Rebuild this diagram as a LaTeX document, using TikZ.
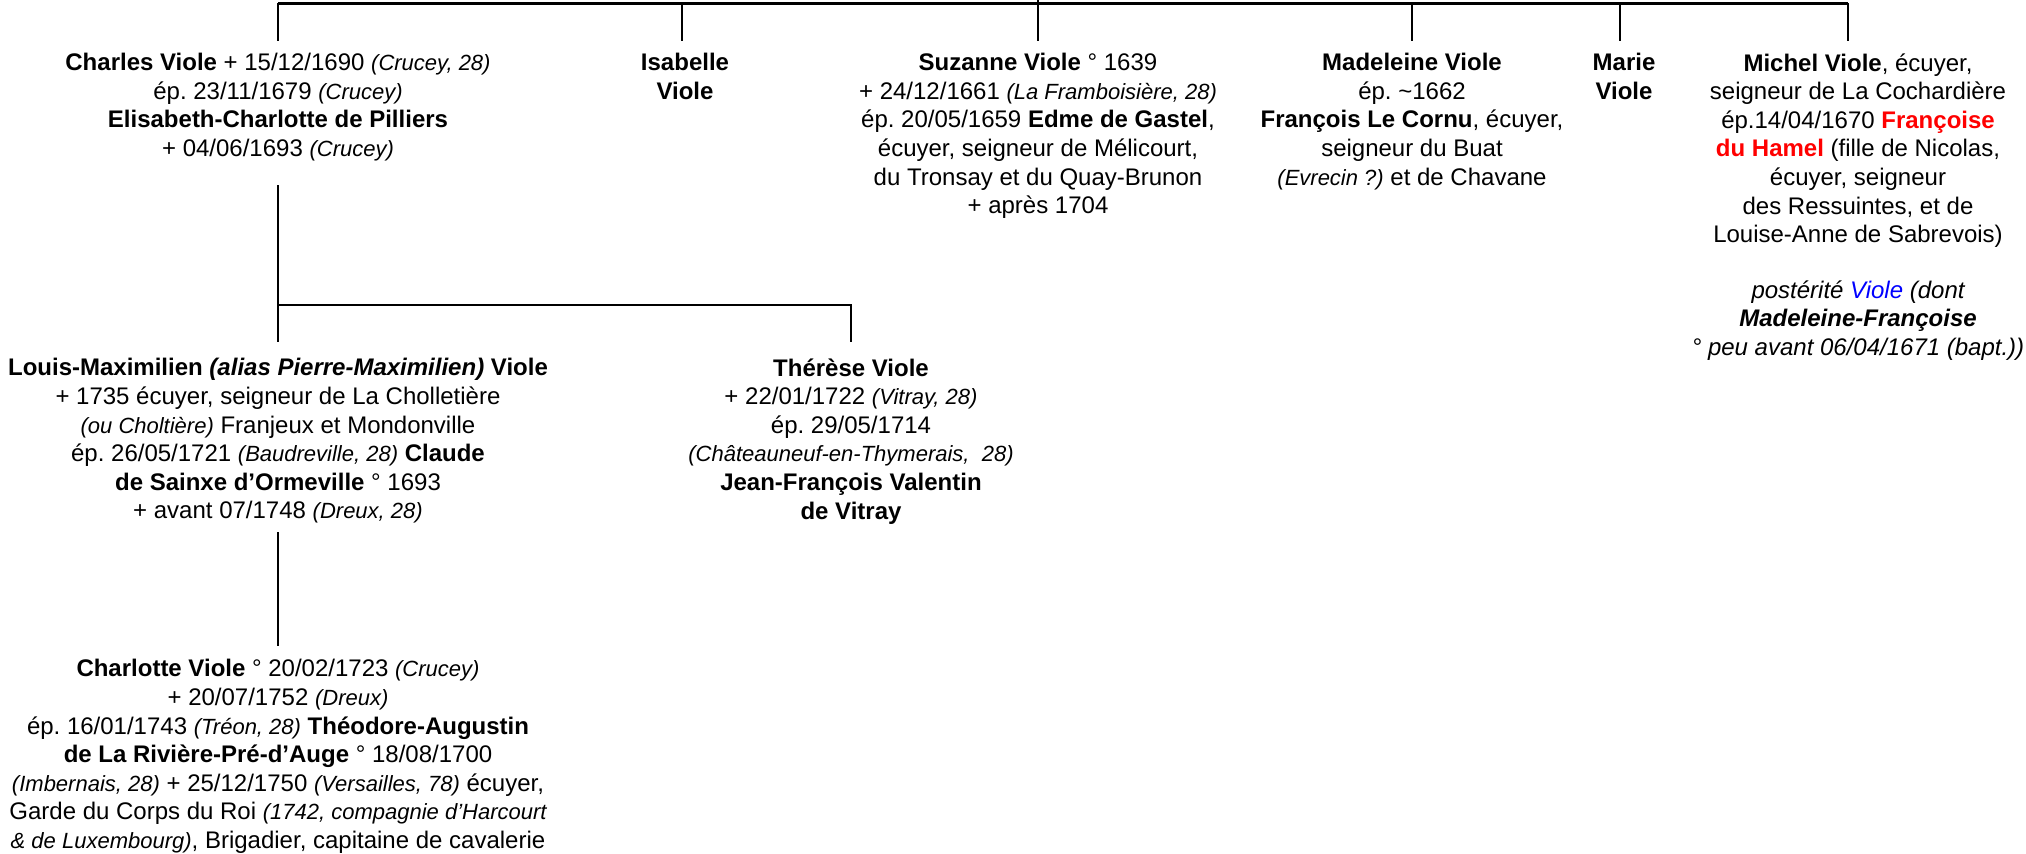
\documentclass[tikz,border=0pt]{standalone}
\usepackage{fontspec}
\setmainfont{Liberation Sans}
\frenchspacing
\definecolor{hamelred}{RGB}{255,0,0}
\definecolor{violeblue}{RGB}{0,0,255}
\newcommand\ip[1]{{\fontsize{11pt}{14.3pt}\selectfont\itshape #1}}
\begin{document}
\begin{tikzpicture}[x=0.5pt,y=-0.5pt,
  person/.style={align=center,anchor=north,inner sep=0pt,font=\fontsize{12pt}{14.3pt}\selectfont\frenchspacing},
  conn/.style={line width=1pt},
  bar/.style={line width=1.5pt}]
\useasboundingbox (0,0) rectangle (2026,853);
% nodes
\node[person] (charles) at (278,53) {\textbf{Charles Viole} + 15/12/1690 \ip{(Crucey, 28)}\\ ép. 23/11/1679 \ip{(Crucey)}\\ \textbf{Elisabeth-Charlotte de Pilliers}\\ + 04/06/1693 \ip{(Crucey)}};
\node[person] (isabelle) at (685,53) {\textbf{Isabelle}\\ \textbf{Viole}};
\node[person] (suzanne) at (1038,53) {\textbf{Suzanne Viole} ° 1639\\ + 24/12/1661 \ip{(La Framboisière, 28)}\\ ép. 20/05/1659 \textbf{Edme de Gastel},\\ écuyer, seigneur de Mélicourt,\\ du Tronsay et du Quay-Brunon\\ + après 1704};
\node[person] (madeleine) at (1412,53) {\textbf{Madeleine Viole}\\ ép. \textasciitilde1662\\ \textbf{François Le Cornu}, écuyer,\\ seigneur du Buat\\ \ip{(Evrecin ?)} et de Chavane};
\node[person] (marie) at (1624,53) {\textbf{Marie}\\ \textbf{Viole}};
\node[person] (michel) at (1858,53) {\textbf{Michel Viole}, écuyer,\\ seigneur de La Cochardière\\ ép.14/04/1670 \textcolor{hamelred}{\textbf{Françoise}}\\ \textcolor{hamelred}{\textbf{du Hamel}} (fille de Nicolas,\\ écuyer, seigneur\\ des Ressuintes, et de\\ Louise-Anne de Sabrevois)};
\node[person] (michelpost) at (1858,280) {\itshape postérité \textcolor{violeblue}{Viole} (dont\\ \itshape\bfseries Madeleine-Françoise\\ \itshape ° peu avant 06/04/1671 (bapt.))};
\node[person] (louis) at (278,358) {\textbf{Louis-Maximilien \textit{(alias Pierre-Maximilien)} Viole}\\ + 1735 écuyer, seigneur de La Cholletière\\ \ip{(ou Choltière)} Franjeux et Mondonville\\ ép. 26/05/1721 \ip{(Baudreville, 28)} \textbf{Claude}\\ \textbf{de Sainxe d’Ormeville} ° 1693\\ + avant 07/1748 \ip{(Dreux, 28)}};
\node[person] (therese) at (851,358) {\textbf{Thérèse Viole}\\ + 22/01/1722 \ip{(Vitray, 28)}\\ ép. 29/05/1714\\ \ip{(Châteauneuf-en-Thymerais,\ \ 28)}\\ \textbf{Jean-François Valentin}\\ \textbf{de Vitray}};
\node[person] (charlotte) at (278,659) {\textbf{Charlotte Viole} ° 20/02/1723 \ip{(Crucey)}\\ + 20/07/1752 \ip{(Dreux)}\\ ép. 16/01/1743 \ip{(Tréon, 28)} \textbf{Théodore-Augustin}\\ \textbf{de La Rivière-Pré-d’Auge} ° 18/08/1700\\ \ip{(Imbernais, 28)} + 25/12/1750 \ip{(Versailles, 78)} écuyer,\\ Garde du Corps du Roi \ip{(1742, compagnie d’Harcourt}\\ \ip{\& de Luxembourg)}, Brigadier, capitaine de cavalerie};
% junction coordinates
\coordinate (parent) at (1038,0);
\coordinate (barL) at (278,3);
\coordinate (barR) at (1848,3);
\coordinate (barS) at (1038,3);
\coordinate (barI) at (682,3);
\coordinate (barM) at (1412,3);
\coordinate (barMa) at (1620,3);
\coordinate (endC) at (278,41);
\coordinate (endI) at (682,41);
\coordinate (endS) at (1038,41);
\coordinate (endM) at (1412,41);
\coordinate (endMa) at (1620,41);
\coordinate (endMi) at (1848,41);
\coordinate (chTop) at (278,185);
\coordinate (chBar) at (278,305);
\coordinate (thBar) at (851,305);
\coordinate (endL) at (278,342);
\coordinate (endT) at (851,342);
\coordinate (loTop) at (278,532);
\coordinate (endCh) at (278,646);
% connectors
\draw[bar] (barL) -- (barR);
\draw[conn] (parent) -- (barS);
\draw[conn] (barL) -- (endC);
\draw[conn] (barI) -- (endI);
\draw[conn] (barS) -- (endS);
\draw[conn] (barM) -- (endM);
\draw[conn] (barMa) -- (endMa);
\draw[conn] (barR) -- (endMi);
\draw[conn] (chTop) -- (endL);
\draw[conn] (chBar) -- (thBar) -- (endT);
\draw[conn] (loTop) -- (endCh);
\end{tikzpicture}
\end{document}
